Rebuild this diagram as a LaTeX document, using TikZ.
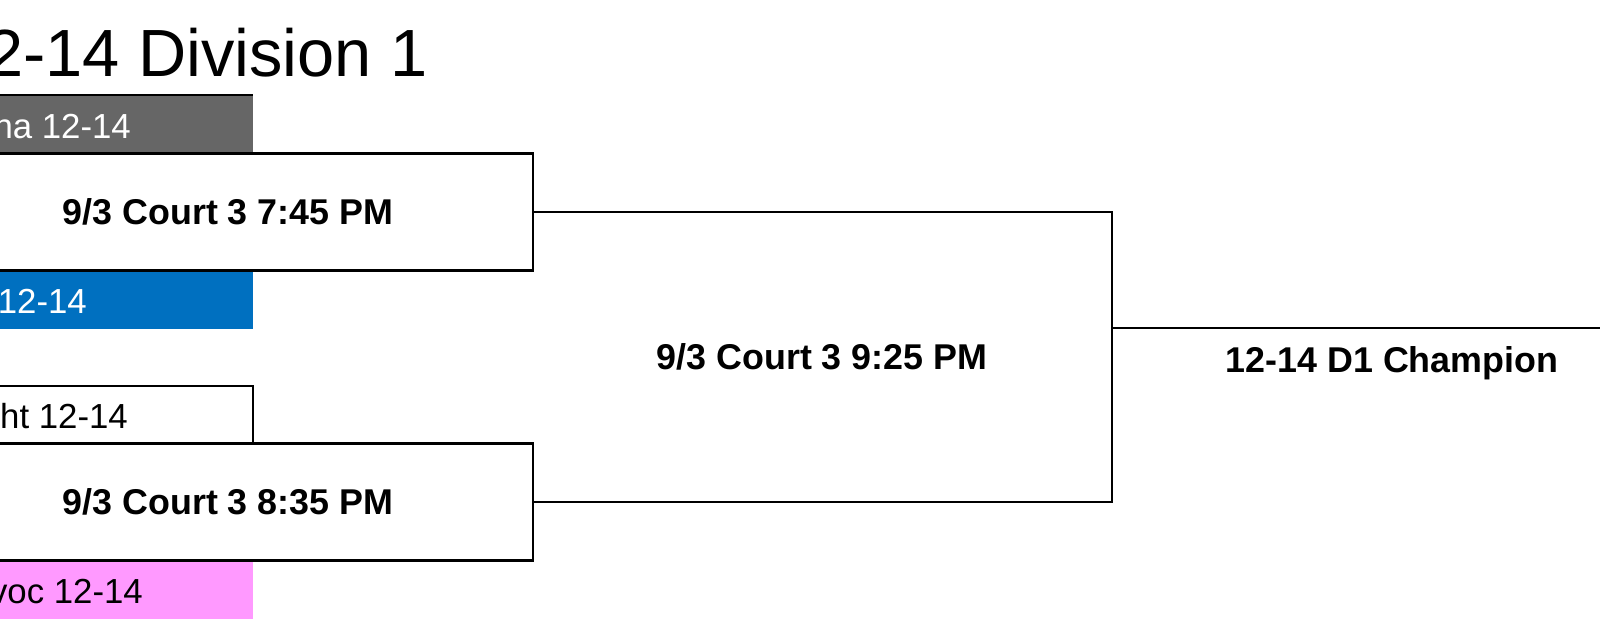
\documentclass[tikz,border=0pt]{standalone}
\usepackage{fontspec}
\setmainfont{Liberation Sans}
\definecolor{slotgray}{HTML}{666666}
\definecolor{slotblue}{HTML}{0070C0}
\definecolor{slotpink}{HTML}{FF99FF}
\begin{document}
\begin{tikzpicture}[x=0.02cm, y=-0.02cm, line width=1.3pt,
	game/.style={draw, fill=white, minimum width=12.2cm, minimum height=2.34cm, inner sep=0pt, font=\fontsize{20.4}{24}\selectfont\bfseries},
	gametext/.style={anchor=base, inner sep=0pt, font=\fontsize{20.4}{24}\selectfont\bfseries},
	team/.style={anchor=base east, inner sep=0pt, font=\fontsize{19.8}{24}\selectfont}]
	\useasboundingbox (0,0) rectangle (1600,623);

	\draw (429, 76) node[anchor=base east, inner sep=0pt, font=\fontsize{38}{46}\selectfont] (title) {2-14 Division 1};

	% team slots
	\fill[slotgray] (-80,95) rectangle (253,153);
	\draw (-80,95) -- (253,95);
	\fill[slotblue] (-80,270) rectangle (253,329);
	\draw (-80,386) rectangle (253,444);
	\fill[slotpink] (-80,561) rectangle (253,619);

	\draw (228, 212) 	node[game] 	(g1) 	{9/3 Court 3 7:45 PM};
	\draw (228, 502) 	node[game] 	(g2) 	{9/3 Court 3 8:35 PM};

	\draw (132, 138) 	node[team, text=white] 	(t1) 	{na 12-14};
	\draw (88, 313) 	node[team, text=white] 	(t2) 	{12-14};
	\draw (129, 428) 	node[team] 	(t3) 	{ht 12-14};
	\draw (144, 603) 	node[team] 	(t4) 	{voc 12-14};

	\draw (822, 369) 	node[gametext] 	(g3) 	{9/3 Court 3 9:25 PM};
	\draw (1392, 372) 	node[gametext] 	(champ) {12-14 D1 Champion};

	\coordinate (j1) at (1112, 212);
	\coordinate (j2) at (1112, 502);
	\coordinate (cj) at (1112, 328);
	\coordinate (cend) at (1600, 328);

	\draw (g1.east) -- (j1) -- (j2) -- (g2.east);
	\draw (cj) -- (cend);
\end{tikzpicture}
\end{document}
